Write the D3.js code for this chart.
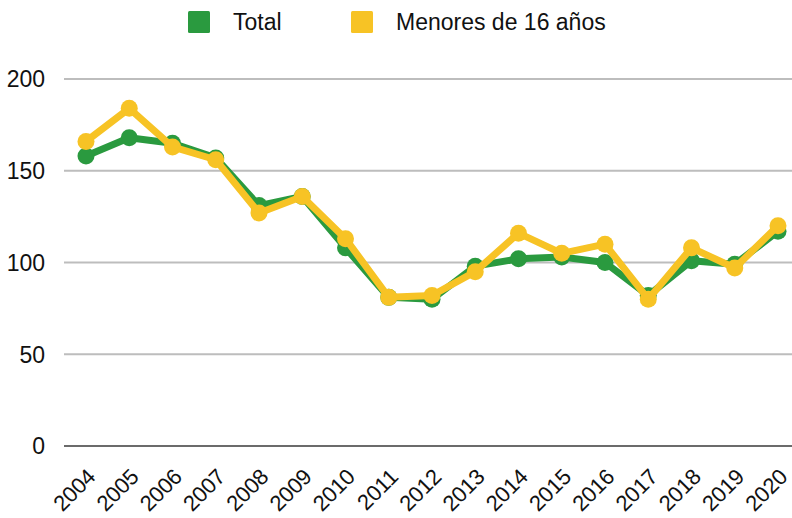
<!DOCTYPE html>
<html>
<head>
<meta charset="utf-8">
<script src="https://cdn.jsdelivr.net/npm/d3@7"></script>
<style>
  body { margin: 0; background: #fff; }
  svg { font-family: "Liberation Sans", Arial, sans-serif; }
</style>
</head>
<body>
<div id="chart"></div>
<script>
const years = ['2004', '2005', '2006', '2007', '2008', '2009', '2010', '2011', '2012',
  '2013', '2014', '2015', '2016', '2017', '2018', '2019', '2020'];
const total = [158, 168, 165, 157, 131, 136, 108, 81, 80, 98, 102, 103, 100, 82, 101, 99, 117];
const menores = [166, 184, 163, 156, 127, 136, 113, 81, 82, 95, 116, 105, 110, 80, 108, 97, 120];
const yTicks = [0, 50, 100, 150, 200];
const seriesNames = ['Total', 'Menores de 16 años'];
const colors = ['#2a9a3f', '#f7c325'];

const width = 792, height = 518;
const margin = {top: 79, right: 0, bottom: 72, left: 64};

const svg = d3.select('#chart').append('svg')
  .attr('width', width)
  .attr('height', height);

const x = d3.scalePoint()
  .domain(years)
  .range([86, 778]);

const y = d3.scaleLinear()
  .domain([0, 200])
  .range([height - margin.bottom, margin.top]);

// grid lines
svg.append('g').selectAll('line').data(yTicks).enter()
  .append('line')
    .attr('x1', margin.left)
    .attr('x2', width)
    .attr('y1', d => y(d))
    .attr('y2', d => y(d))
    .attr('stroke', d => d === 0 ? '#6b6b6b' : '#bdbdbd')
    .attr('stroke-width', 2);

// y labels
svg.append('g').selectAll('text').data(yTicks).enter()
  .append('text')
    .attr('x', 45)
    .attr('y', d => y(d))
    .attr('dy', '0.36em')
    .attr('text-anchor', 'end')
    .style('font-size', '23px')
    .attr('fill', '#111')
    .text(d => d);

// x labels
svg.append('g').selectAll('text').data(years).enter()
  .append('text')
    .attr('transform', d => `translate(${x(d) + 11},478) rotate(-45)`)
    .attr('text-anchor', 'end')
    .style('font-size', '22px')
    .attr('fill', '#111')
    .text(d => d);

const line = d3.line()
  .x((d, i) => x(years[i]))
  .y(d => y(d));

[total, menores].forEach((vals, s) => {
  const g = svg.append('g');
  g.append('path')
    .datum(vals)
    .attr('d', line)
    .attr('fill', 'none')
    .attr('stroke', colors[s])
    .attr('stroke-width', 7)
    .attr('stroke-linejoin', 'round');
  g.selectAll('circle').data(vals).enter()
    .append('circle')
      .attr('cx', (d, i) => x(years[i]))
      .attr('cy', d => y(d))
      .attr('r', 8.5)
      .attr('fill', colors[s]);
});

// legend
const legendX = [188, 351];
const legendTextX = [233, 396];
const legend = svg.append('g');
seriesNames.forEach((name, i) => {
  legend.append('rect')
    .attr('x', legendX[i])
    .attr('y', 11)
    .attr('width', 22)
    .attr('height', 22)
    .attr('rx', 1.5)
    .attr('fill', colors[i]);
  legend.append('text')
    .attr('x', legendTextX[i])
    .attr('y', 30)
    .style('font-size', '23px')
    .attr('fill', '#111')
    .text(name);
});
</script>
</body>
</html>
